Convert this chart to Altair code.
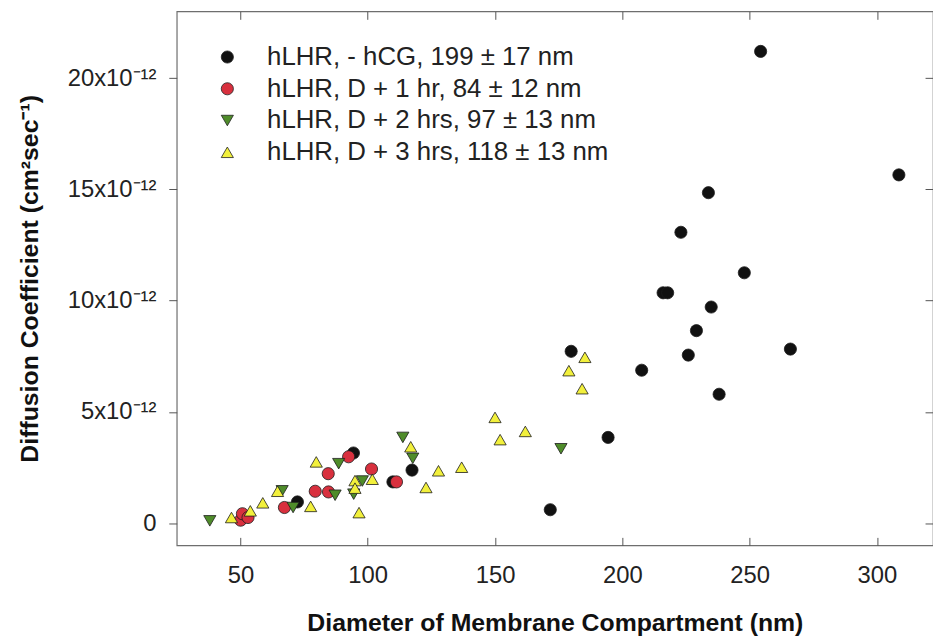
import altair as alt
import pandas as pd

series_names = [
    "hLHR, - hCG, 199 ± 17 nm",
    "hLHR, D + 1 hr, 84 ± 12 nm",
    "hLHR, D + 2 hrs, 97 ± 13 nm",
    "hLHR, D + 3 hrs, 118 ± 13 nm",
]
series_colors = ["#111111", "#d8303e", "#4f8c2a", "#f2f03c"]
series_shapes = ["circle", "circle", "triangle-down", "triangle-up"]
series_sizes = [150, 150, 190, 190]

black_x = [254.3, 308.6, 233.8, 223.0, 247.9, 216.0, 217.8, 234.9, 229.1, 225.9,
           266.0, 179.9, 207.6, 238.0, 194.4, 171.7, 117.4, 94.4, 72.4, 109.9]
black_y = [21.2, 15.65, 14.85, 13.07, 11.25, 10.35, 10.35, 9.71, 8.65, 7.55,
           7.82, 7.72, 6.87, 5.79, 3.85, 0.6, 2.38, 3.15, 0.95, 1.85]

red_x = [50.1, 50.8, 53.0, 67.3, 79.4, 84.5, 84.6, 92.5, 101.5, 111.3]
red_y = [0.13, 0.42, 0.25, 0.70, 1.43, 2.22, 1.40, 2.98, 2.43, 1.85]

green_x = [38.0, 66.4, 70.7, 87.2, 88.6, 94.5, 97.9, 113.8, 117.7, 175.9]
green_y = [0.10, 1.45, 0.70, 1.25, 2.67, 1.30, 1.89, 3.85, 2.91, 3.34]

yellow_x = [46.5, 53.9, 58.8, 64.6, 77.6, 79.8, 95.0, 95.0, 96.6, 101.8,
            116.9, 122.9, 127.8, 136.9, 150.0, 152.0, 161.9, 179.0, 185.3, 184.2]
yellow_y = [0.25, 0.55, 0.91, 1.43, 0.75, 2.75, 1.91, 1.57, 0.47, 1.97,
            3.43, 1.60, 2.35, 2.51, 4.75, 3.75, 4.12, 6.85, 7.45, 6.04]

x_ticks = [50, 100, 150, 200, 250, 300]
y_ticks = [0, 5, 10, 15, 20]

rows = []
for name, xs, ys in zip(series_names, [black_x, red_x, green_x, yellow_x],
                        [black_y, red_y, green_y, yellow_y]):
    for xv, yv in zip(xs, ys):
        rows.append({"series": name, "x": xv, "y": yv})
df = pd.DataFrame(rows)

W, H = 762, 538
FONT = "Liberation Sans"
xscale = alt.Scale(domain=[25, 322], nice=False, zero=False)
yscale = alt.Scale(domain=[-1, 23], nice=False, zero=False)

sup = "x10\u207b\u00b9\u00b2"
label_expr = "datum.value == 0 ? '0\u00a0\u00a0\u00a0' : datum.value + '" + sup + "'"

x_axis_main = alt.Axis(
    orient="bottom", offset=0, values=x_ticks, ticks=False, tickSize=0,
    domain=False, grid=False, labelFont=FONT, labelFontSize=24,
    labelColor="#222222", labelPadding=18,
    title="Diameter of Membrane Compartment (nm)", titleFont=FONT,
    titleFontSize=25, titleFontWeight="bold", titleColor="#111111", titleY=66,
)
y_axis_main = alt.Axis(
    orient="left", offset=0, values=y_ticks, ticks=True, tickSize=8,
    tickColor="#555555", domain=False, grid=False, labelFont=FONT,
    labelFontSize=24, labelColor="#222222", labelPadding=13, labelExpr=label_expr,
    title="Diffusion Coefficient (cm\u00b2sec\u207b\u00b9)", titleFont=FONT,
    titleFontSize=25, titleFontWeight="bold", titleColor="#111111",
    titleX=-135, titleY=H / 2,
)

legend = alt.Legend(
    orient="none", legendX=38, legendY=33, title=None, labelFont=FONT,
    labelFontSize=26, labelColor="#222222", labelLimit=600, symbolSize=110,
    symbolStrokeColor="#222222", symbolStrokeWidth=0.8, rowPadding=6,
    labelOffset=27, padding=0,
)

points = alt.Chart(df).mark_point(
    filled=True, stroke="#1c1c1c", strokeWidth=0.8, opacity=1
).encode(
    x=alt.X("x:Q", scale=xscale, axis=x_axis_main),
    y=alt.Y("y:Q", scale=yscale, axis=y_axis_main),
    color=alt.Color("series:N", scale=alt.Scale(domain=series_names, range=series_colors), legend=legend),
    shape=alt.Shape("series:N", scale=alt.Scale(domain=series_names, range=series_shapes), legend=legend),
    size=alt.Size("series:N", scale=alt.Scale(domain=series_names, range=series_sizes), legend=None),
)

# inward ticks on the bottom and right edges
ticks_br = alt.Chart(df).mark_point(opacity=0).encode(
    x=alt.X("x:Q", scale=xscale, axis=alt.Axis(
        orient="top", offset=-H, values=x_ticks, labels=False, domain=False,
        ticks=True, tickSize=8, tickColor="#555555", grid=False, title=None)),
    y=alt.Y("y:Q", scale=yscale, axis=alt.Axis(
        orient="left", offset=-W, values=y_ticks, labels=False, domain=False,
        ticks=True, tickSize=8, tickColor="#555555", grid=False, title=None)),
)

# inward ticks on the top edge
ticks_top = alt.Chart(df).mark_point(opacity=0).encode(
    x=alt.X("x:Q", scale=xscale, axis=alt.Axis(
        orient="bottom", offset=-H, values=x_ticks, labels=False, domain=False,
        ticks=True, tickSize=8, tickColor="#555555", grid=False, title=None)),
    y=alt.Y("y:Q", scale=yscale, axis=None),
)

chart = alt.layer(points, ticks_br, ticks_top).resolve_axis(
    x="independent", y="independent"
).properties(
    width=W, height=H, autosize="none",
    padding={"left": 170, "top": 1, "right": 0, "bottom": 92},
    background="white",
).configure_view(stroke="#6e6e6e", strokeWidth=1.2)

chart.save("out.html", embed_options={"renderer": "svg", "actions": False})
